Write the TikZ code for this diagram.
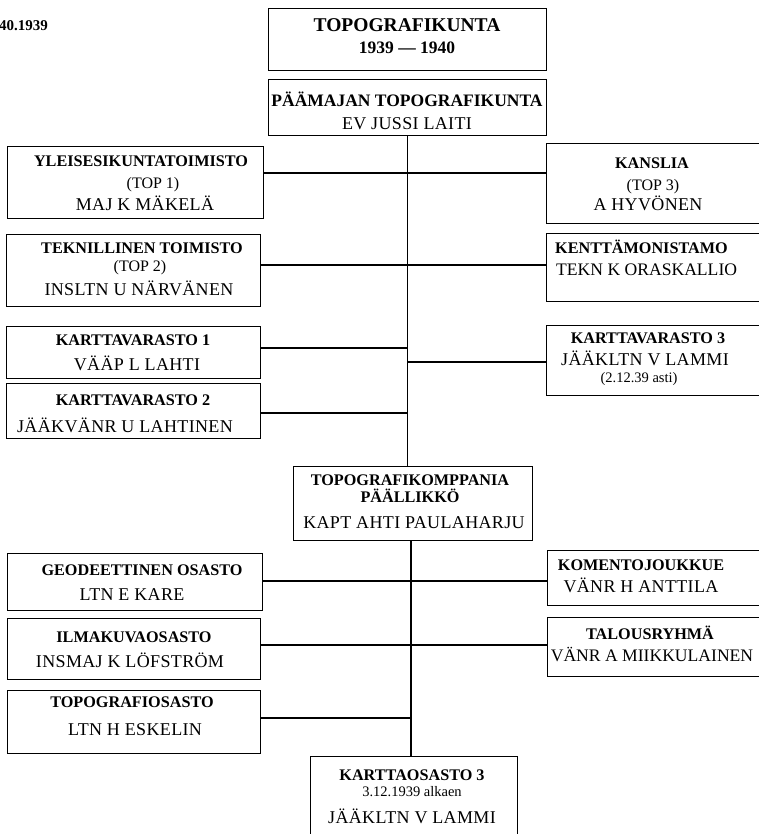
\documentclass[tikz,border=0pt]{standalone}
\usepackage{fontspec}
\setmainfont{Liberation Serif}
\newfontfamily\widerm[LetterSpace=2]{Liberation Serif}
\begin{document}
\begin{tikzpicture}[x=1pt,y=-1pt,
  box/.style={draw,line width=1.3pt,inner sep=0pt,anchor=north west},
  conn/.style={line width=1.2pt},
  txt/.style={inner sep=0pt,text depth=0pt},
  ti/.style={txt,text height=12.9pt,font=\fontsize{19.5}{20}\selectfont\bfseries},
  yr/.style={txt,text height=11.6pt,font=\fontsize{17.5}{18}\selectfont\bfseries},
  hb/.style={txt,text height=10.7pt,font=\fontsize{16.2}{17}\selectfont\bfseries},
  nm/.style={txt,text height=11.9pt,font=\widerm\fontsize{18}{19}\selectfont},
  np/.style={txt,text height=11.7pt,font=\fontsize{17.6}{19}\selectfont},
  pr/.style={txt,text height=10.6pt,font=\fontsize{16}{17}\selectfont},
  sm/.style={txt,text height=9.6pt,font=\fontsize{14.5}{15}\selectfont}]
\useasboundingbox (0,0) rectangle (758,834);

% date fragment
\node[txt,text height=10pt,font=\fontsize{15}{16}\selectfont\bfseries,anchor=west] (dt) at (-1,26) {40.1939};

% boxes
\node[box,minimum width=278pt,minimum height=62pt] (tt) at (268,8) {};
\node[box,minimum width=278pt,minimum height=56pt] (pm) at (268,79) {};
\node[box,minimum width=256pt,minimum height=72pt] (yl) at (7,146) {};
\node[box,minimum width=230pt,minimum height=80pt] (ka) at (546,143) {};
\node[box,minimum width=254pt,minimum height=72pt] (te) at (6,234) {};
\node[box,minimum width=230pt,minimum height=68pt] (km) at (546,233) {};
\node[box,minimum width=254pt,minimum height=52pt] (k1) at (6,326) {};
\node[box,minimum width=254pt,minimum height=55pt] (k2) at (6,383) {};
\node[box,minimum width=230pt,minimum height=70pt] (k3) at (546,325) {};
\node[box,minimum width=239pt,minimum height=74pt] (tk) at (293,466) {};
\node[box,minimum width=255pt,minimum height=57pt] (ge) at (7,553) {};
\node[box,minimum width=230pt,minimum height=55pt] (ko) at (547,550) {};
\node[box,minimum width=253pt,minimum height=61pt] (il) at (7,618) {};
\node[box,minimum width=230pt,minimum height=59pt] (ta) at (547,617) {};
\node[box,minimum width=253pt,minimum height=63pt] (to) at (7,690) {};
\node[box,minimum width=207pt,minimum height=100pt] (kt) at (310,756) {};

% texts
\node[ti] (tt1) at (407,25) {TOPOGRAFIKUNTA};
\node[yr] (tt2) at (407,48) {1939 — 1940};
\node[yr] (pm1) at (407,101) {PÄÄMAJAN TOPOGRAFIKUNTA};
\node[nm] (pm2) at (407,124) {EV JUSSI LAITI};

\node[hb] (yl1) at (141,161) {YLEISESIKUNTATOIMISTO};
\node[pr] (yl2) at (153,183) {(TOP 1)};
\node[nm] (yl3) at (145,205) {MAJ K MÄKELÄ};

\node[hb] (ka1) at (652,163) {KANSLIA};
\node[pr] (ka2) at (653,185) {(TOP 3)};
\node[nm] (ka3) at (648,205) {A HYVÖNEN};

\node[hb] (te1) at (142,248) {TEKNILLINEN TOIMISTO};
\node[pr] (te2) at (140,266) {(TOP 2)};
\node[nm] (te3) at (139,290) {INSLTN U NÄRVÄNEN};

\node[hb,anchor=west] (km1) at (555,248) {KENTTÄMONISTAMO};
\node[np,anchor=west] (km2) at (556,270) {TEKN K ORASKALLIO};

\node[hb] (k11) at (133,340) {KARTTAVARASTO 1};
\node[nm] (k12) at (137,365) {VÄÄP L LAHTI};

\node[hb] (k21) at (133,400) {KARTTAVARASTO 2};
\node[nm] (k22) at (125,427) {JÄÄKVÄNR U LAHTINEN};

\node[hb] (k31) at (648,338) {KARTTAVARASTO 3};
\node[nm] (k32) at (645,360) {JÄÄKLTN V LAMMI};
\node[sm] (k33) at (639,378) {(2.12.39 asti)};

\node[hb] (tk1) at (410,480) {TOPOGRAFIKOMPPANIA};
\node[hb] (tk2) at (410,497) {PÄÄLLIKKÖ};
\node[nm] (tk3) at (414,523) {KAPT AHTI PAULAHARJU};

\node[hb] (ge1) at (142,570) {GEODEETTINEN OSASTO};
\node[nm] (ge2) at (132,595) {LTN E KARE};

\node[hb] (ko1) at (641,565) {KOMENTOJOUKKUE};
\node[nm] (ko2) at (641,587) {VÄNR H ANTTILA};

\node[hb] (il1) at (134,637) {ILMAKUVAOSASTO};
\node[nm] (il2) at (130,662) {INSMAJ K LÖFSTRÖM};

\node[hb] (ta1) at (650,634) {TALOUSRYHMÄ};
\node[np] (ta2) at (652,656) {VÄNR A MIIKKULAINEN};

\node[hb] (to1) at (132,702) {TOPOGRAFIOSASTO};
\node[nm] (to2) at (135,730) {LTN H ESKELIN};

\node[hb] (kt1) at (412,775) {KARTTAOSASTO 3};
\node[sm] (kt2) at (412,792) {3.12.1939 alkaen};
\node[nm] (kt3) at (412,818) {JÄÄKLTN V LAMMI};

% spine
\coordinate (s2) at (411,0);
\draw[conn] (pm.south) -- (pm.south |- tk.north);
\draw[conn] (tk.south -| s2) -- (kt.north -| s2);

% branches
\coordinate (c1) at (0,173);
\coordinate (c2) at (0,265);
\coordinate (c3) at (0,348);
\coordinate (c4) at (0,362);
\coordinate (c5) at (0,413);
\coordinate (c6) at (0,581);
\coordinate (c7) at (0,645);
\coordinate (c8) at (0,718);
\draw[conn] (yl.east |- c1) -- (ka.west |- c1);
\draw[conn] (te.east |- c2) -- (km.west |- c2);
\draw[conn] (k1.east |- c3) -- (pm.south |- c3);
\draw[conn] (pm.south |- c4) -- (k3.west |- c4);
\draw[conn] (k2.east |- c5) -- (pm.south |- c5);
\draw[conn] (ge.east |- c6) -- (ko.west |- c6);
\draw[conn] (il.east |- c7) -- (ta.west |- c7);
\draw[conn] (to.east |- c8) -- (s2 |- c8);
\end{tikzpicture}
\end{document}
